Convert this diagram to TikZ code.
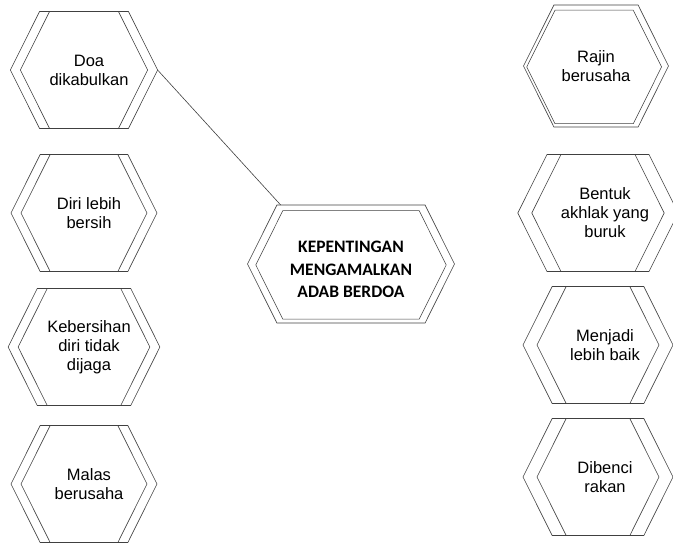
\documentclass[tikz,border=0pt]{standalone}
\usepackage{fontspec}
\setmainfont{Liberation Sans}
\newfontfamily\titlefont{Carlito}
\usetikzlibrary{shapes.symbols,shadows}

\begin{document}
\begin{tikzpicture}[x=1pt,y=-1pt,line width=0.6pt,
  hexbase/.style={shape=signal,signal to=east and west,signal pointer angle=127,
    draw=black!75,minimum width=136pt,minimum height=117pt,inner sep=0pt,outer sep=0pt,
    align=center,font=\fontsize{16.5}{19}\selectfont},
  hexa/.style={hexbase,copy shadow={shadow xshift=-10pt,shadow yshift=0pt,fill=none,draw=black!75}},
  hexb/.style={hexbase,copy shadow={shadow xshift=-14pt,shadow yshift=0pt,fill=none,draw=black!75}}]

\useasboundingbox (0,0) rectangle (673,542);

\node[hexa] (doa)        at (89,70)  {Doa\\dikabulkan};
\node[hexa] (diri)       at (89,213) {Diri lebih\\bersih};
\node[hexa] (kebersihan) at (89,347) {Kebersihan\\diri tidak\\dijaga};
\node[hexa] (malas)      at (89,484) {Malas\\berusaha};

\node[hexbase,minimum width=145pt,minimum height=122pt,
  copy shadow={shadow scale=.93,shadow xshift=-2pt,shadow yshift=-1pt,fill=none,draw=black!75}]
  (rajin) at (596,66) {Rajin\\berusaha};
\node[hexb] (bentuk)  at (605,213) {Bentuk\\akhlak yang\\buruk};
\node[hexb] (menjadi) at (605,345) {Menjadi\\lebih baik};
\node[hexb] (dibenci) at (605,477) {Dibenci\\rakan};

\node[hexbase,minimum width=207pt,minimum height=118pt,
  font=\titlefont\bfseries\fontsize{17.5}{22.5}\selectfont,
  copy shadow={shadow scale=.92,shadow xshift=0pt,shadow yshift=-1pt,fill=none,draw=black!75}]
  (centre) at (351,264) {\rule{0pt}{23pt}KEPENTINGAN\\MENGAMALKAN\\ADAB BERDOA};

\draw[black!75] (doa.east) -- (centre.140);
\end{tikzpicture}
\end{document}
